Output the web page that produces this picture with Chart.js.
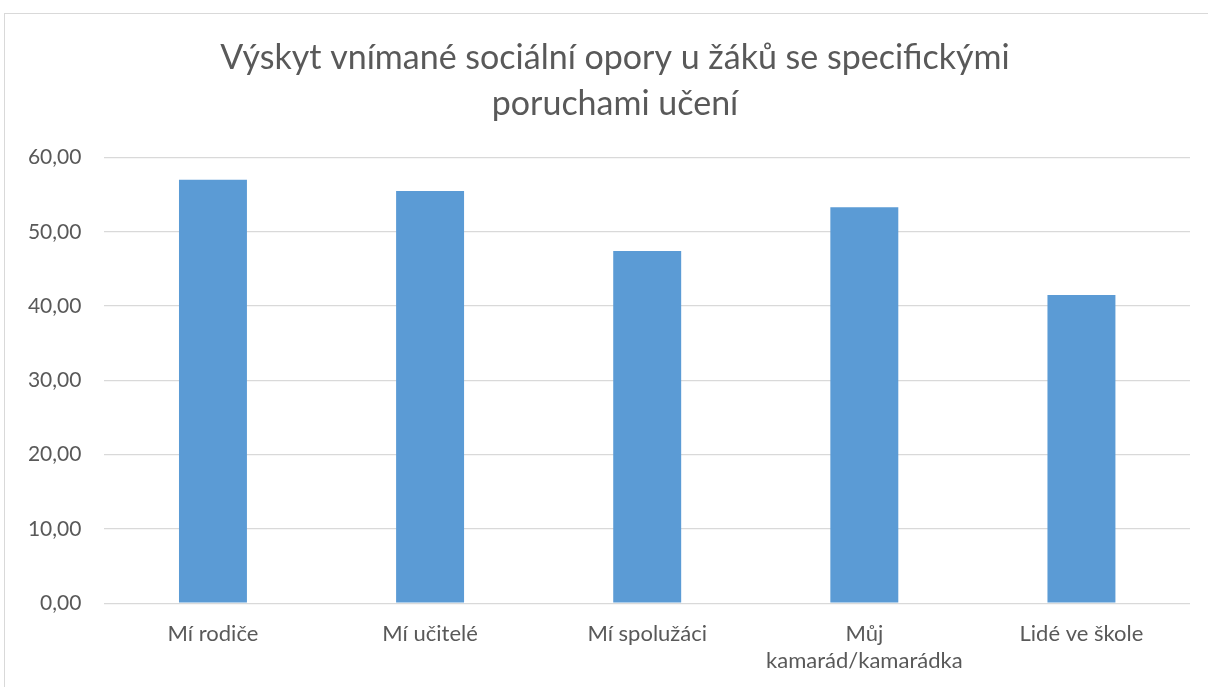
<!DOCTYPE html>
<html>
<head>
<meta charset="utf-8">
<script src="https://cdn.jsdelivr.net/npm/chart.js@4"></script>
<style>
  html, body { margin: 0; padding: 0; background: #fff; overflow: hidden; width: 1208px; height: 687px; }
  #box { position: absolute; left: 4px; top: 13px; width: 1240px; height: 720px; border: 1px solid #d9d9d9; }
  #chart { position: absolute; left: 0; top: 0; }
</style>
</head>
<body>
<div id="box"><canvas id="chart" width="1220" height="693"></canvas></div>
<script>
const categories = ['Mí rodiče', 'Mí učitelé', 'Mí spolužáci', ['Můj', 'kamarád/kamarádka'], 'Lidé ve škole'];
const values = [57.0, 55.5, 47.4, 53.3, 41.5];
const titleLines = ['Výskyt vnímané sociální opory u žáků se specifickými', 'poruchami učení'];

const textColor = '#595959';
const fontFamily = 'Lato, "Open Sans", sans-serif';

new Chart(document.getElementById('chart').getContext('2d'), {
    type: 'bar',
    data: {
        labels: categories,
        datasets: [{ data: values, backgroundColor: '#5b9bd5', barPercentage: 0.313, categoryPercentage: 1 }]
    },
    options: {
        responsive: false, animation: false,
        layout: { padding: { left: 0, right: 0, top: 0, bottom: 15 } },
        plugins: {
            legend: { display: false },
            tooltip: { enabled: false },
            title: {
                display: true, text: titleLines, color: textColor,
                font: { family: fontFamily, size: 34, weight: 'normal', lineHeight: 1.36 },
                padding: { top: 21, bottom: 30 }
            }
        },
        scales: {
            x: {
                grid: { display: false, drawTicks: false },
                border: { display: false },
                ticks: { color: textColor, font: { family: fontFamily, size: 22, lineHeight: 1.2 }, padding: 18, maxRotation: 0, autoSkip: false }
            },
            y: {
                min: 0, max: 60,
                grid: { color: '#d9d9d9', lineWidth: 1.3, drawTicks: false },
                border: { display: false },
                afterFit: s => { s.width = 99.4; },
                ticks: {
                    stepSize: 10, padding: 23, color: textColor,
                    font: { family: fontFamily, size: 21 },
                    callback: v => v.toFixed(2).replace('.', ',')
                }
            },
            // empty right-hand strip so the plot ends where the original does
            yRight: {
                position: 'right', min: 0, max: 60,
                grid: { display: false, drawTicks: false },
                border: { display: false },
                ticks: { display: false },
                afterFit: s => { s.width = 35; }
            }
        }
    }
});
</script>
</body>
</html>
